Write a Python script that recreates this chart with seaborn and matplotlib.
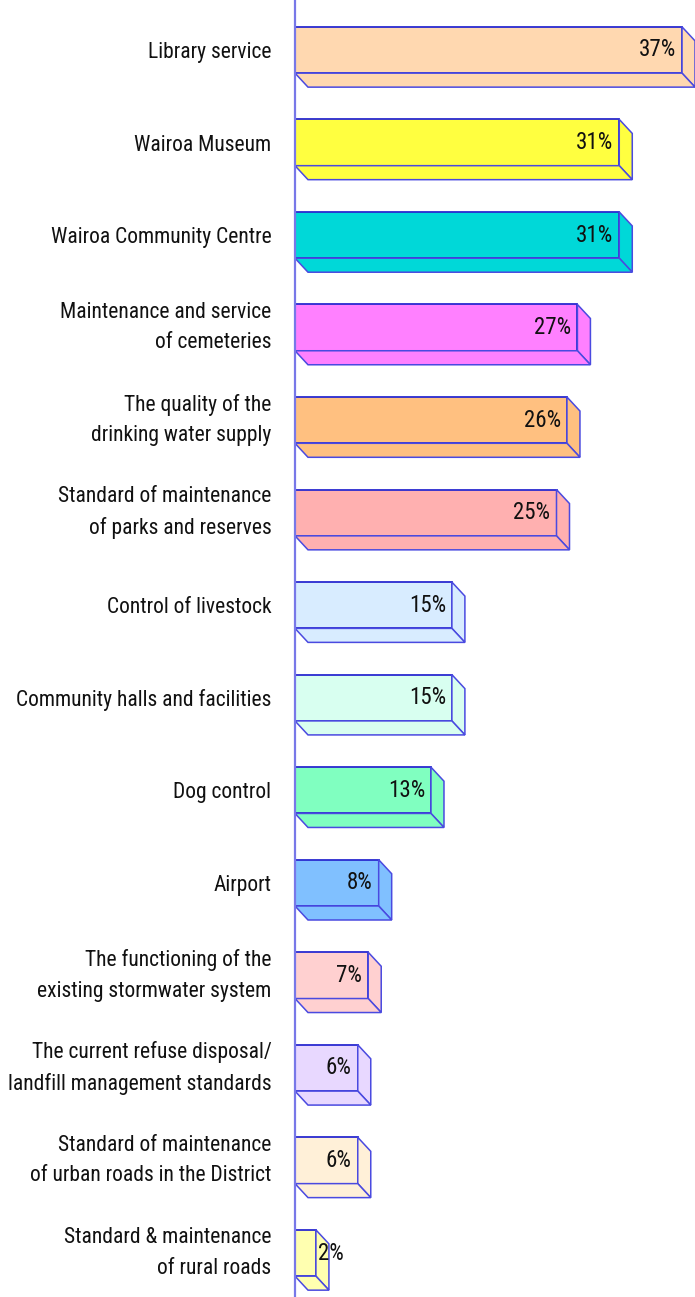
import matplotlib
matplotlib.use("Agg")
import matplotlib.pyplot as plt
from matplotlib.patches import Polygon
from matplotlib import font_manager
from matplotlib.font_manager import FontProperties
import seaborn as sns
import pandas as pd

categories = [
    "Library service",
    "Wairoa Museum",
    "Wairoa Community Centre",
    "Maintenance and service\nof cemeteries",
    "The quality of the\ndrinking water supply",
    "Standard of maintenance\nof parks and reserves",
    "Control of livestock",
    "Community halls and facilities",
    "Dog control",
    "Airport",
    "The functioning of the\nexisting stormwater system",
    "The current refuse disposal/\nlandfill management standards",
    "Standard of maintenance\nof urban roads in the District",
    "Standard & maintenance\nof rural roads",
]
values = [37, 31, 31, 27, 26, 25, 15, 15, 13, 8, 7, 6, 6, 2]
value_labels = ["37%", "31%", "31%", "27%", "26%", "25%", "15%", "15%", "13%", "8%", "7%", "6%", "6%", "2%"]
colors = ["#FFD8B0", "#FFFF40", "#00D8D8", "#FF80FF", "#FFC080", "#FFB0B0", "#D8ECFF",
          "#D8FFF0", "#80FFC0", "#80C0FF", "#FFD0D0", "#E8D8FF", "#FFF0D8", "#FFFFB0"]

sns.set_theme(style="white")
plt.rcParams["font.family"] = ["DejaVu Sans"]


def is_regular(f):
    w = f.weight
    wok = (w in ("normal", "regular", "book", 400)) or (isinstance(w, int) and 350 <= w <= 450)
    return wok and f.style == "normal"


def condensed_font():
    cands = []
    for f in font_manager.fontManager.ttflist:
        low = (f.name + " " + f.fname).lower()
        st = f.stretch
        cond = ("narrow" in low or "condensed" in low or
                st in ("condensed", "semi-condensed", "extra-condensed", "ultra-condensed") or
                (isinstance(st, int) and st < 500))
        if cond and is_regular(f) and "bold" not in low and "oblique" not in low and "italic" not in low:
            cands.append(f)
    pref = ["liberation sans narrow", "roboto condensed", "open sans condensed",
            "noto sans", "dejavu sans"]
    for p in pref:
        for f in cands:
            if p in (f.name + " " + f.fname).lower():
                return f.fname
    return cands[0].fname if cands else None


fpath = condensed_font()
if fpath:
    fp = FontProperties(fname=fpath, size=15.5)
    fpv = FontProperties(fname=fpath, size=16.5)
else:
    fp = FontProperties(family="DejaVu Sans", size=11.5)
    fpv = FontProperties(family="DejaVu Sans", size=12)

W, H = 695, 1297
fig = plt.figure(figsize=(W / 100, H / 100), dpi=100)
ax_left = 295
ax = fig.add_axes([ax_left / W, 0, (W - ax_left) / W, 1])

df = pd.DataFrame({"cat": categories, "val": values})
bar_h = 0.5
sns.barplot(data=df, x="val", y="cat", hue="cat", palette=colors, legend=False,
            orient="h", width=bar_h, edgecolor="#2A2AD0", linewidth=1.3, ax=ax, saturation=1)

px_per_unit_x = 10.46
spacing = 92.54
ax.set_xlim(0, (W - ax_left) / px_per_unit_x)
top_c = 50
ax.set_ylim((H - top_c) / spacing, -top_c / spacing)

dx = 13 / px_per_unit_x
dy = 14 / spacing
for i, (v, c) in enumerate(zip(values, colors)):
    t = i - bar_h / 2
    b = i + bar_h / 2
    side = Polygon([(v, t), (v + dx, t + dy), (v + dx, b + dy), (v, b)], closed=True,
                   facecolor=c, edgecolor="#4A4AE0", linewidth=1.1, zorder=1)
    bottom = Polygon([(0, b), (v, b), (v + dx, b + dy), (dx, b + dy)], closed=True,
                     facecolor=c, edgecolor="#4A4AE0", linewidth=1.1, zorder=1)
    ax.add_patch(side)
    ax.add_patch(bottom)
    if v >= 4:
        ax.text(v - 6 / px_per_unit_x, i, value_labels[i], ha="right", va="center",
                fontproperties=fpv, color="#111111", zorder=5)
    else:
        ax.text(v + 2 / px_per_unit_x, i, value_labels[i], ha="left", va="center",
                fontproperties=fpv, color="#111111", zorder=5)

for s in ["top", "right", "bottom"]:
    ax.spines[s].set_visible(False)
ax.spines["left"].set_color("#7878E8")
ax.spines["left"].set_linewidth(1.6)
ax.spines["left"].set_zorder(6)
ax.set_xticks([])
ax.set_xlabel("")
ax.set_ylabel("")
ax.tick_params(axis="y", length=0, pad=17, labelcolor="#111111")
for lab in ax.get_yticklabels():
    lab.set_fontproperties(fp)
    lab.set_horizontalalignment("right")
    lab.set_multialignment("right")
    lab.set_linespacing(1.6)
    if "\n" in lab.get_text():
        lab.set_verticalalignment("center")

fig.savefig("out.png", dpi=100)
